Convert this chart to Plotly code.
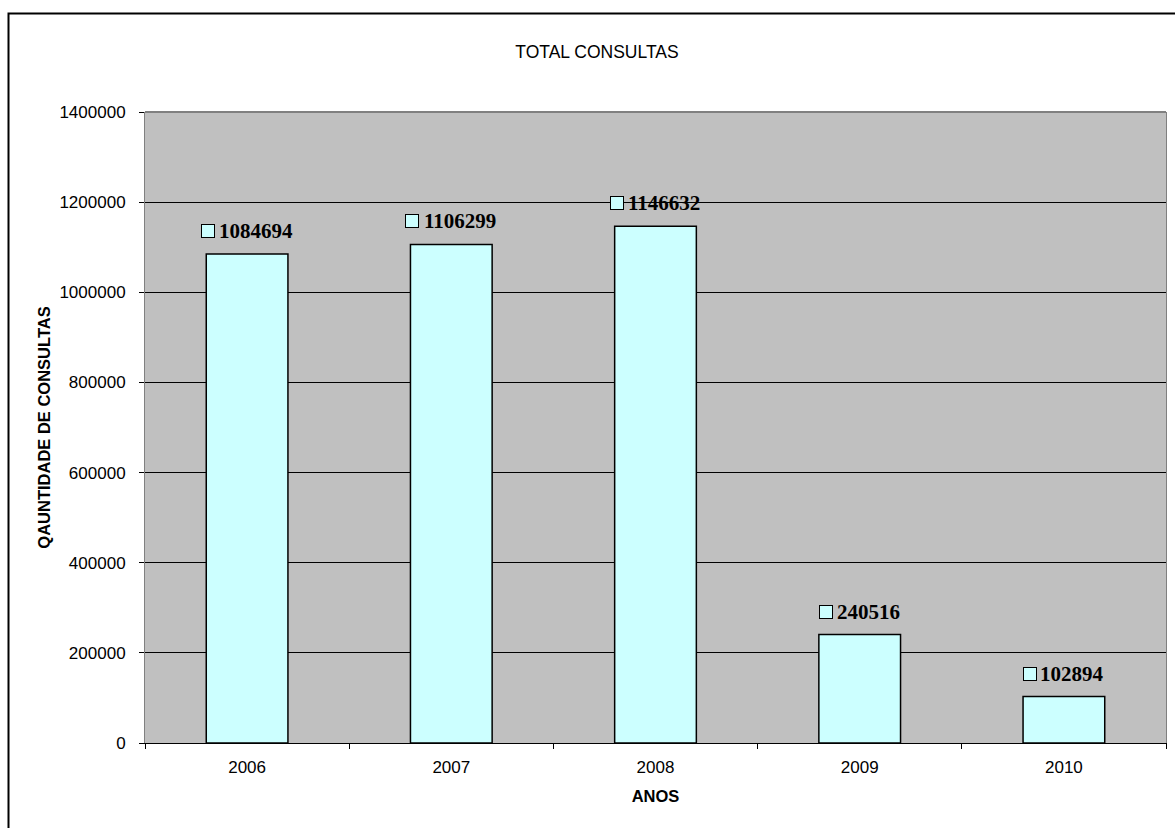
import plotly.graph_objects as go

years = ["2006", "2007", "2008", "2009", "2010"]
consultas = [1084694, 1106299, 1146632, 240516, 102894]
y_ticks = [0, 200000, 400000, 600000, 800000, 1000000, 1200000, 1400000]

W, H = 1175, 828
L, R, T, B = 145, 9, 112, 85
pw, ph = W - L - R, H - T - B

fig = go.Figure()
fig.add_trace(go.Bar(
    x=years, y=consultas, width=0.4,
    marker=dict(color="#CCFFFF", line=dict(color="black", width=1.5)),
    hoverinfo="x+y",
))

annotations = []
digit_w = 10.4
for i, (yr, v) in enumerate(zip(years, consultas)):
    txt = str(v)
    annotations.append(dict(
        x=i, y=v, xref="x", yref="y", text="<b>" + txt + "</b>", showarrow=False,
        xanchor="center", yanchor="middle", xshift=8.5, yshift=23,
        font=dict(family="Liberation Serif, Times New Roman, serif", size=21, color="black"),
    ))
    annotations.append(dict(
        x=i, y=v, xref="x", yref="y", text=" ", showarrow=False,
        xanchor="center", yanchor="middle",
        xshift=-2.5 - len(txt) * digit_w / 2, yshift=23,
        width=12, height=12, bgcolor="#CCFFFF", bordercolor="black",
        borderwidth=1, borderpad=0, font=dict(size=8),
    ))

fig.update_layout(
    width=W, height=H,
    margin=dict(l=L, r=R, t=T, b=B),
    paper_bgcolor="white", plot_bgcolor="#C0C0C0",
    font=dict(family="Liberation Sans, Arial, sans-serif", size=17, color="black"),
    title=dict(text="TOTAL CONSULTAS", x=(597 - L) / pw, xref="paper", xanchor="center",
               y=1 - 52 / H, yref="container", yanchor="middle",
               font=dict(size=17.5, color="black")),
    showlegend=False,
    annotations=annotations,
    shapes=[
        dict(type="rect", xref="paper", yref="paper",
             x0=(8.5 - L) / pw, x1=(W + 20 - L) / pw,
             y0=-(B + 20) / ph, y1=1 + (T - 13.5) / ph,
             line=dict(color="black", width=2), layer="above"),
        dict(type="line", xref="paper", yref="paper", x0=0, x1=1, y0=1, y1=1,
             line=dict(color="#808080", width=2), layer="above"),
    ],
)

fig.update_xaxes(
    type="category", categoryorder="array", categoryarray=years,
    range=[-0.5, len(years) - 0.5], autorange=False,
    showline=True, linecolor="black", linewidth=1,
    ticks="outside", tickson="boundaries", ticklen=5, tickcolor="black",
    showgrid=False, tickangle=0, ticklabelstandoff=9,
    title=dict(text="<b>ANOS</b>", font=dict(size=16.5), standoff=14),
)
fig.update_yaxes(
    range=[0, 1400000], autorange=False, tickvals=y_ticks, ticktext=[str(t) for t in y_ticks],
    showline=True, linecolor="#808080", linewidth=1, mirror=True,
    ticks="outside", ticklen=5, tickcolor="black", ticklabelstandoff=10,
    showgrid=True, gridcolor="black", gridwidth=1, zeroline=False,
    title=dict(text="<b>QAUNTIDADE DE CONSULTAS</b>", font=dict(size=16.5), standoff=4),
)

fig.write_html("out.html")
